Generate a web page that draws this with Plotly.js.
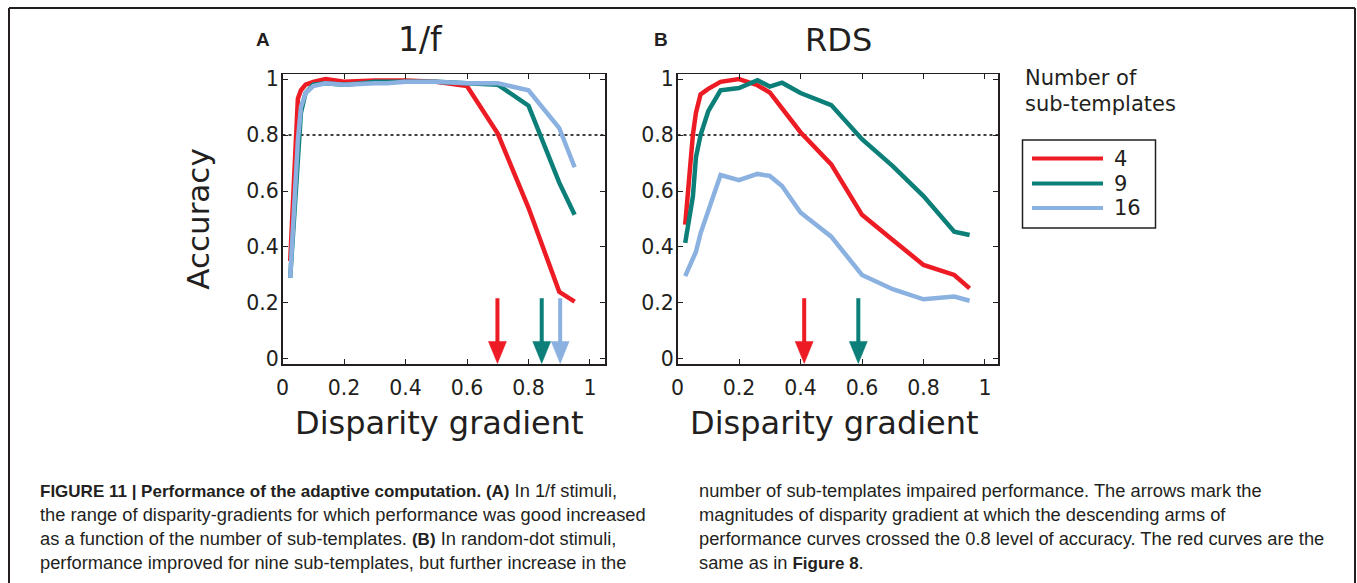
<!DOCTYPE html>
<html>
<head>
<meta charset="utf-8">
<script src="https://cdn.plot.ly/plotly-3.0.1.min.js"></script>
<style>
  html, body { margin: 0; padding: 0; background: #ffffff; }
  #fig { width: 1357px; height: 583px; }
</style>
</head>
<body>
<div id="fig"></div>
<script>
// Disparity gradients at which accuracy was evaluated
const gradients = [0.025, 0.05, 0.06, 0.075, 0.1, 0.14, 0.2, 0.26, 0.3, 0.34, 0.4, 0.5, 0.6, 0.7, 0.8, 0.9, 0.95];

// Panel A: 1/f stimuli
const oneF_4  = [0.35, 0.93, 0.96, 0.98, 0.99, 1.0, 0.99, 0.995, 0.995, 0.995, 0.995, 0.99, 0.975, 0.805, 0.54, 0.24, 0.205];
const oneF_9  = [0.29, 0.72, 0.88, 0.95, 0.98, 0.985, 0.98, 0.985, 0.99, 0.99, 0.99, 0.99, 0.985, 0.98, 0.905, 0.63, 0.515];
const oneF_16 = [0.29, 0.78, 0.90, 0.95, 0.975, 0.985, 0.98, 0.985, 0.985, 0.985, 0.99, 0.99, 0.985, 0.985, 0.96, 0.825, 0.685];

// Panel B: random-dot stereograms
const rds_4  = [0.48, 0.80, 0.88, 0.945, 0.965, 0.99, 1.0, 0.978, 0.952, 0.895, 0.81, 0.695, 0.515, 0.425, 0.336, 0.30, 0.252];
const rds_9  = [0.415, 0.58, 0.72, 0.80, 0.885, 0.96, 0.968, 0.996, 0.973, 0.987, 0.95, 0.907, 0.785, 0.689, 0.582, 0.455, 0.443];
const rds_16 = [0.296, 0.365, 0.383, 0.449, 0.526, 0.657, 0.639, 0.661, 0.654, 0.618, 0.523, 0.437, 0.30, 0.249, 0.213, 0.223, 0.208];

// Gradients where the descending arms cross the 0.8 accuracy criterion
const crossA = [0.699, 0.843, 0.903];   // 4, 9, 16 sub-templates
const crossB = [0.412, 0.588];          // 4, 9 sub-templates
const criterion = 0.8;

const seriesNames = ['4', '9', '16'];
const colors = ['#ED1C24', '#0B7F78', '#8BB1E0'];

const tickVals = [0, 0.2, 0.4, 0.6, 0.8, 1];
const tickText = ['0', '0.2', '0.4', '0.6', '0.8', '1'];

// ---- page geometry (pixels) ----
const W = 1357, H = 583;
const px = v => v / W;
const py = v => 1 - v / H;

const plotTop = 74, plotBottom = 364;
const yRange = [-0.018, 1.018];
const xRangeA = [0, 1.0488];
const xRangeB = [0, 1.0423];
const pxPerUnitX = 307.5, pxPerUnitY = 280;

const ink = '#231F20';
const figFont = 'DejaVu Sans, sans-serif';

const traces = [];

function addCurves(ys, xa, ya) {
  ys.forEach((y, i) => {
    traces.push({
      x: gradients, y: y, xaxis: xa, yaxis: ya,
      type: 'scatter', mode: 'lines', name: seriesNames[i],
      line: { color: colors[i], width: 4.5 },
      showlegend: false, hoverinfo: 'x+y+name'
    });
  });
}
addCurves([oneF_4, oneF_9, oneF_16], 'x', 'y');
addCurves([rds_4, rds_9, rds_16], 'x2', 'y2');

// Downward arrows at the crossing gradients
const headHalf = 9 / pxPerUnitX;
const headLen = 22 / pxPerUnitY;
const tipY = yRange[0] + 0.002;
const shaftTop = 0.217;
function addArrows(xs, xa, ya) {
  xs.forEach((x, i) => {
    traces.push({
      x: [x, x], y: [shaftTop, tipY + headLen * 0.7], xaxis: xa, yaxis: ya,
      type: 'scatter', mode: 'lines', line: { color: colors[i], width: 4 },
      showlegend: false, hoverinfo: 'skip'
    });
    traces.push({
      x: [x - headHalf, x + headHalf, x, x - headHalf],
      y: [tipY + headLen, tipY + headLen, tipY, tipY + headLen],
      xaxis: xa, yaxis: ya, type: 'scatter', mode: 'lines',
      fill: 'toself', fillcolor: colors[i], line: { color: colors[i], width: 0.5 },
      showlegend: false, hoverinfo: 'skip'
    });
  });
}
addArrows(crossA, 'x', 'y');
addArrows(crossB, 'x2', 'y2');

const axisCommon = {
  showline: true, linecolor: ink, linewidth: 1.5, mirror: 'ticks',
  ticks: 'inside', ticklen: 5, tickwidth: 1, tickcolor: ink,
  showgrid: false, zeroline: false,
  tickvals: tickVals, ticktext: tickText,
  tickfont: { family: figFont, size: 20.5, color: ink }
};

const yDomain = [py(plotBottom), py(plotTop)];

const layout = {
  width: W, height: H,
  margin: { l: 0, r: 0, t: 0, b: 0 },
  paper_bgcolor: '#ffffff', plot_bgcolor: '#ffffff',
  showlegend: false,
  xaxis: Object.assign({}, axisCommon, {
    domain: [px(282.5), px(605)], range: xRangeA, anchor: 'y',
    ticklabelstandoff: 5
  }),
  yaxis: Object.assign({}, axisCommon, {
    domain: yDomain, range: yRange, anchor: 'x',
    ticklabelstandoff: -2,
    title: { text: 'Accuracy', font: { family: figFont, size: 31, color: ink }, standoff: 27 }
  }),
  xaxis2: Object.assign({}, axisCommon, {
    domain: [px(677.5), px(998)], range: xRangeB, anchor: 'y2',
    ticklabelstandoff: 5
  }),
  yaxis2: Object.assign({}, axisCommon, {
    domain: yDomain, range: yRange, anchor: 'x2',
    ticklabelstandoff: -2
  }),
  shapes: [],
  annotations: []
};

// Criterion line in both panels
[['x domain', 'y'], ['x2 domain', 'y2']].forEach(([xr, yr]) => {
  layout.shapes.push({
    type: 'line', xref: xr, yref: yr, x0: 0, x1: 1, y0: criterion, y1: criterion,
    line: { color: '#000000', width: 1.5, dash: 'dot' }, layer: 'below'
  });
});

// Page frame
const frame = { color: ink, width: 2 };
layout.shapes.push({ type: 'line', xref: 'paper', yref: 'paper', x0: px(9), x1: px(1355), y0: py(8), y1: py(8), line: frame });
layout.shapes.push({ type: 'line', xref: 'paper', yref: 'paper', x0: px(9), x1: px(9), y0: py(8), y1: 0, line: frame });
layout.shapes.push({ type: 'line', xref: 'paper', yref: 'paper', x0: px(1355), x1: px(1355), y0: py(8), y1: 0, line: frame });

// Panel letters, titles and x-axis labels
function label(text, x, y, size, family, opts) {
  layout.annotations.push(Object.assign({
    text: text, x: px(x), y: py(y), xref: 'paper', yref: 'paper',
    showarrow: false, xanchor: 'center', yanchor: 'middle',
    font: { family: family, size: size, color: ink }
  }, opts || {}));
}
label('<b>A</b>', 263, 40, 19, 'Liberation Sans, Arial, sans-serif');
label('<b>B</b>', 661, 40, 19, 'Liberation Sans, Arial, sans-serif');
label('1/f', 420, 40, 33, figFont);
label('RDS', 838, 40, 32, figFont);
label('Disparity gradient', 439.5, 423, 32, figFont);
label('Disparity gradient', 834.5, 423, 32, figFont);

// Legend
label('Number of', 1023, 78, 21, figFont, { xanchor: 'left' });
label('sub-templates', 1023, 104, 21, figFont, { xanchor: 'left' });
layout.shapes.push({
  type: 'rect', xref: 'paper', yref: 'paper',
  x0: px(1022.5), x1: px(1155.5), y0: py(228), y1: py(140),
  line: { color: ink, width: 1.5 }, fillcolor: 'rgba(0,0,0,0)'
});
const legendRows = [158.5, 183.5, 208];
seriesNames.forEach((n, i) => {
  layout.shapes.push({
    type: 'line', xref: 'paper', yref: 'paper',
    x0: px(1032), x1: px(1103), y0: py(legendRows[i]), y1: py(legendRows[i]),
    line: { color: colors[i], width: 4 }
  });
  label(n, 1112, legendRows[i], 21, figFont, { xanchor: 'left' });
});

// Caption (bold runs set slightly smaller than the body text)
const capFont = 'Liberation Sans Narrow, Arial Narrow, Liberation Sans, sans-serif';
const B = t => '<b><span style="font-size:17px">' + t + '</span></b>';
const capLeft = [
  B('FIGURE 11 | Performance of the adaptive computation. (A)') + ' In 1/f stimuli,',
  'the range of disparity-gradients for which performance was good increased',
  'as a function of the number of sub-templates. ' + B('(B)') + ' In random-dot stimuli,',
  'performance improved for nine sub-templates, but further increase in the'
];
const capRight = [
  'number of sub-templates impaired performance. The arrows mark the',
  'magnitudes of disparity gradient at which the descending arms of',
  'performance curves crossed the 0.8 level of accuracy. The red curves are the',
  'same as in ' + B('Figure 8') + '.'
];
const capRows = [490, 514, 538, 562];
capLeft.forEach((t, i) => label(t, 38, capRows[i], 18.3, capFont, { xanchor: 'left' }));
capRight.forEach((t, i) => label(t, 697, capRows[i], 18.3, capFont, { xanchor: 'left' }));

Plotly.newPlot('fig', traces, layout, { displayModeBar: false, staticPlot: true });
</script>
</body>
</html>
